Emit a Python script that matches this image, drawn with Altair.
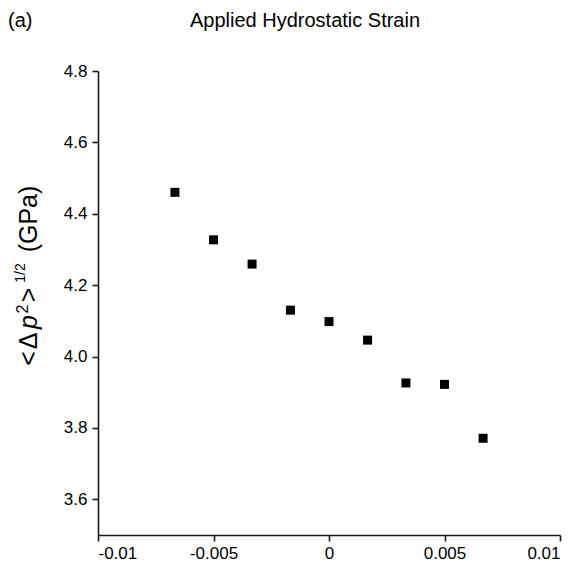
import altair as alt
import pandas as pd

# Data
strain = [-0.00667, -0.005, -0.00333, -0.00167, 0.0, 0.00167, 0.00333, 0.005, 0.00667]
dp_rms = [4.460, 4.327, 4.259, 4.130, 4.098, 4.046, 3.926, 3.922, 3.771]
x_ticks = [-0.01, -0.005, 0, 0.005, 0.01]
y_ticks = [3.6, 3.8, 4.0, 4.2, 4.4, 4.6, 4.8]

df = pd.DataFrame({"strain": strain, "dp": dp_rms})
FONT = "Liberation Sans"

points = alt.Chart(df).mark_square(size=81, color="black", opacity=1).encode(
    x=alt.X(
        "strain:Q",
        scale=alt.Scale(domain=[-0.01, 0.01], nice=False, zero=False),
        axis=alt.Axis(values=x_ticks, labelExpr="toString(datum.value)", title=None),
    ),
    y=alt.Y(
        "dp:Q",
        scale=alt.Scale(domain=[3.5, 4.8], nice=False, zero=False),
        axis=alt.Axis(values=y_ticks, format=".1f", title=None),
    ),
)

def txt(s, x, y, size=25, angle=0, align="center", baseline="alphabetic", style="normal"):
    return alt.Chart(pd.DataFrame({"t": [s]})).mark_text(
        font=FONT, fontSize=size, angle=angle, align=align, baseline=baseline,
        fontStyle=style, color="black",
    ).encode(text="t:N", x=alt.value(x), y=alt.value(y))

MAIN_X = -61
ytitle = [
    txt("<", MAIN_X, 287.5, angle=270),
    txt("Δ", MAIN_X, 270, angle=270),
    txt("p", MAIN_X, 251, angle=270, style="italic"),
    txt("2", -70, 238, size=16, angle=270),
    txt(">", MAIN_X, 224, angle=270),
    txt("1/2", -73, 202, size=14, angle=270),
    txt("(GPa)", MAIN_X, 148, angle=270),
]

label_a = txt("(a)", -90, -44, size=20, align="left")
title = txt("Applied Hydrostatic Strain", 207, -44, size=20)

chart = alt.layer(points, label_a, title, *ytitle).properties(
    width=462,
    height=464,
    autosize=alt.AutoSizeParams(type="none"),
    padding={"left": 98, "top": 71, "right": 17, "bottom": 32},
    background="white",
).configure_view(stroke=None).configure_axis(
    grid=False,
    domainColor="#1a1a1a",
    domainWidth=1.6,
    tickColor="#1a1a1a",
    tickWidth=1.6,
    tickSize=6,
    labelFont=FONT,
    labelFontSize=17,
    labelColor="black",
    labelPadding=5,
).configure_axisX(labelPadding=4)

chart.save("out.html", embed_options={"renderer": "svg", "actions": False})
